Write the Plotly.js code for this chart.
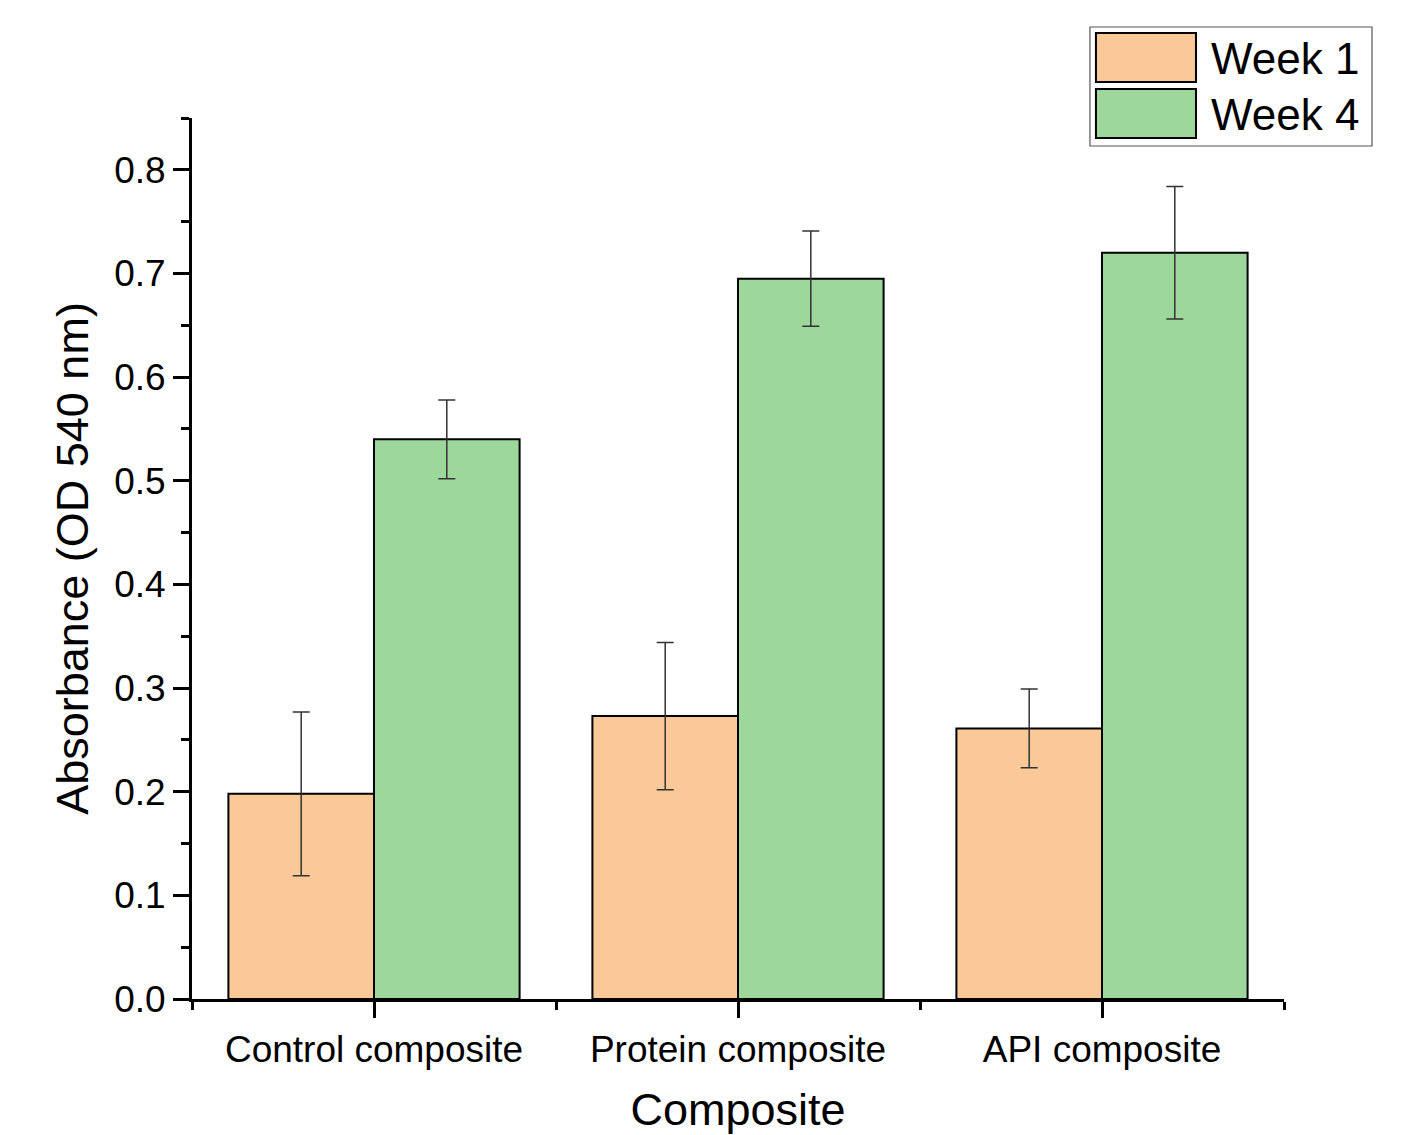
<!DOCTYPE html>
<html>
<head>
<meta charset="utf-8">
<script src="https://cdn.plot.ly/plotly-3.0.1.min.js"></script>
<style>html,body{margin:0;padding:0;background:#fff;}#chart{width:1424px;height:1135px;}</style>
</head>
<body>
<div id="chart"></div>
<script>
// ---- data ----
const categories = ["Control composite", "Protein composite", "API composite"];
const seriesNames = ["Week 1", "Week 4"];
const week1 = [0.198, 0.273, 0.261];
const week1Err = [0.079, 0.071, 0.038];
const week4 = [0.540, 0.695, 0.720];
const week4Err = [0.038, 0.046, 0.064];
const yTickVals = [0, 0.1, 0.2, 0.3, 0.4, 0.5, 0.6, 0.7, 0.8];

// ---- styles ----
const colors = ["#FBC898", "#9DD79C"];
const xIdx = categories.map((c, i) => i);
const font = "Arial, 'Liberation Sans', sans-serif";

function barTrace(name, vals, errs, color) {
  return {
    type: "bar",
    name: name,
    x: xIdx,
    y: vals,
    marker: {color: color, line: {color: "#000", width: 2}},
    error_y: {type: "data", array: errs, visible: true, color: "#333", thickness: 1.5, width: 8.5},
    showlegend: false,
    hoverinfo: "y"
  };
}

const data = [
  barTrace(seriesNames[0], week1, week1Err, colors[0]),
  barTrace(seriesNames[1], week4, week4Err, colors[1])
];

// custom legend (paper coordinates)
const legBox = {x0: 0.8223, x1: 1.0806, y0: 0.9682, y1: 1.1033};
const sw = [{y0: 1.0409, y1: 1.0965, ty: 1.0681}, {y0: 0.9773, y1: 1.0329, ty: 1.0045}];
const shapes = [{type: "rect", xref: "paper", yref: "paper", x0: legBox.x0, x1: legBox.x1, y0: legBox.y0, y1: legBox.y1,
  line: {color: "#555", width: 1.2}, fillcolor: "#fff", layer: "above"}];
const annotations = [];
seriesNames.forEach((n, i) => {
  shapes.push({type: "rect", xref: "paper", yref: "paper", x0: 0.8278, x1: 0.9194, y0: sw[i].y0, y1: sw[i].y1,
    line: {color: "#000", width: 2}, fillcolor: colors[i], layer: "above"});
  annotations.push({xref: "paper", yref: "paper", x: 0.9315, y: sw[i].ty, xanchor: "left", yanchor: "middle",
    text: n, showarrow: false, font: {family: font, size: 44, color: "#000"}});
});

const layout = {
  width: 1424, height: 1135,
  margin: {l: 192, r: 140, t: 118, b: 136},
  paper_bgcolor: "#fff", plot_bgcolor: "#fff",
  barmode: "group", bargap: 0.2, bargroupgap: 0,
  font: {family: font, color: "#000"},
  xaxis: {
    type: "linear", range: [-0.5, 2.5], tickvals: xIdx, ticktext: categories,
    showline: true, linewidth: 3, linecolor: "#000", mirror: false,
    ticks: "outside", ticklen: 16, tickwidth: 3, tickcolor: "#000",
    minor: {tickvals: [-0.5, 0.5, 1.5, 2.5], ticks: "outside", ticklen: 8, tickwidth: 3, tickcolor: "#000", showgrid: false},
    showgrid: false, zeroline: false,
    tickfont: {family: font, size: 37, color: "#000"},
    title: {text: "Composite", font: {family: font, size: 45, color: "#000"}, standoff: 28},
    automargin: false
  },
  yaxis: {
    range: [0, 0.85], tickvals: yTickVals, tickformat: ".1f",
    showline: true, linewidth: 3, linecolor: "#000",
    ticks: "outside", ticklen: 16, tickwidth: 3, tickcolor: "#000",
    minor: {dtick: 0.05, tick0: 0, ticks: "outside", ticklen: 8, tickwidth: 3, tickcolor: "#000", showgrid: false},
    showgrid: false, zeroline: false,
    tickfont: {family: font, size: 37, color: "#000"},
    title: {text: "Absorbance (OD 540 nm)", font: {family: font, size: 45, color: "#000"}, standoff: 12},
    automargin: false
  },
  shapes: shapes,
  annotations: annotations
};

Plotly.newPlot("chart", data, layout, {displayModeBar: false, staticPlot: true});
</script>
</body>
</html>
